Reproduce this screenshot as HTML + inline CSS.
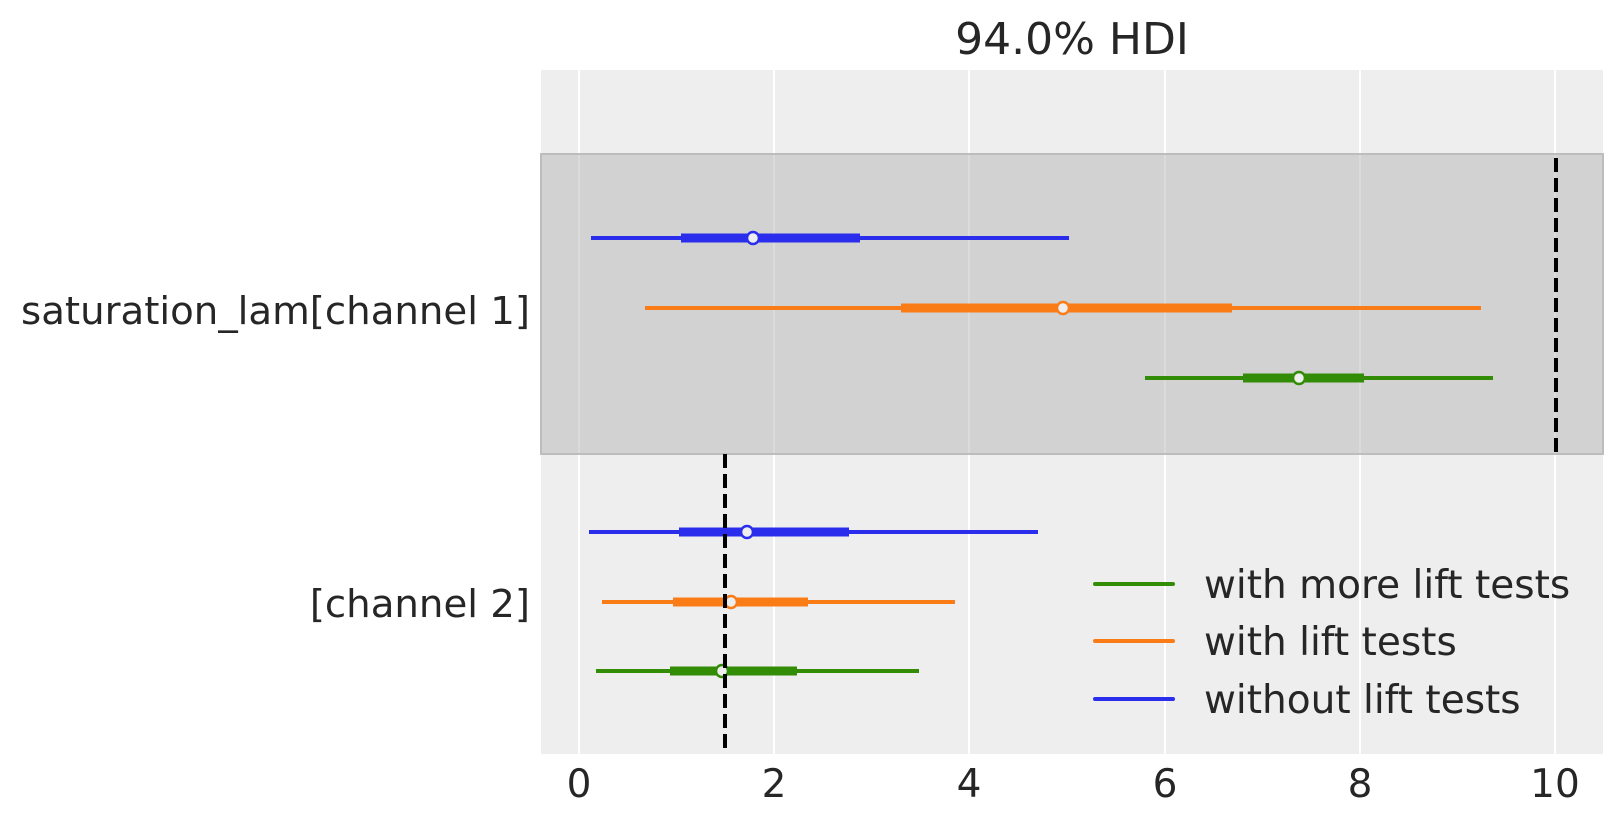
<!DOCTYPE html>
<html><head><meta charset="utf-8"><style>
html,body{margin:0;padding:0;background:#fff;}
svg{display:block;font-family:"DejaVu Sans","Liberation Sans",sans-serif;}
</style></head><body>
<svg width="1623" height="823" viewBox="0 0 1623 823" xmlns="http://www.w3.org/2000/svg">
<rect x="0" y="0" width="1623" height="823" fill="#fff"/>
<rect x="541" y="70" width="1062" height="684" fill="#eeeeee"/>
<g stroke="#ffffff" stroke-width="2">
<line x1="579" y1="70" x2="579" y2="754"/>
<line x1="774" y1="70" x2="774" y2="754"/>
<line x1="969" y1="70" x2="969" y2="754"/>
<line x1="1165" y1="70" x2="1165" y2="754"/>
<line x1="1360" y1="70" x2="1360" y2="754"/>
<line x1="1555" y1="70" x2="1555" y2="754"/>
</g>
<rect x="541" y="154" width="1062" height="300" fill="#b0b0b0" fill-opacity="0.45" stroke="#bdbdbd" stroke-width="2"/>
<g stroke-linecap="butt">
<line x1="591" y1="238" x2="1069" y2="238" stroke="#2a2eec" stroke-width="4"/>
<line x1="681" y1="238" x2="860" y2="238" stroke="#2a2eec" stroke-width="9"/>
<circle cx="753" cy="238" r="6" fill="#eeeeee" stroke="#2a2eec" stroke-width="2.5"/>
<line x1="645" y1="308" x2="1481" y2="308" stroke="#fa7c17" stroke-width="4"/>
<line x1="901" y1="308" x2="1232" y2="308" stroke="#fa7c17" stroke-width="9"/>
<circle cx="1063" cy="308" r="6" fill="#eeeeee" stroke="#fa7c17" stroke-width="2.5"/>
<line x1="1145" y1="378" x2="1493" y2="378" stroke="#328c06" stroke-width="4"/>
<line x1="1243" y1="378" x2="1364" y2="378" stroke="#328c06" stroke-width="9"/>
<circle cx="1299" cy="378" r="6" fill="#eeeeee" stroke="#328c06" stroke-width="2.5"/>
<line x1="589" y1="532" x2="1038" y2="532" stroke="#2a2eec" stroke-width="4"/>
<line x1="679" y1="532" x2="849" y2="532" stroke="#2a2eec" stroke-width="9"/>
<circle cx="747" cy="532" r="6" fill="#eeeeee" stroke="#2a2eec" stroke-width="2.5"/>
<line x1="602" y1="602" x2="955" y2="602" stroke="#fa7c17" stroke-width="4"/>
<line x1="673" y1="602" x2="808" y2="602" stroke="#fa7c17" stroke-width="9"/>
<circle cx="731" cy="602" r="6" fill="#eeeeee" stroke="#fa7c17" stroke-width="2.5"/>
<line x1="596" y1="671" x2="919" y2="671" stroke="#328c06" stroke-width="4"/>
<line x1="670" y1="671" x2="797" y2="671" stroke="#328c06" stroke-width="9"/>
<circle cx="722" cy="671" r="6" fill="#eeeeee" stroke="#328c06" stroke-width="2.5"/>
</g>
<line x1="1556" y1="158" x2="1556" y2="454" stroke="#000" stroke-width="4" stroke-dasharray="14,6"/>
<line x1="725" y1="454" x2="725" y2="754" stroke="#000" stroke-width="4" stroke-dasharray="14,6"/>
<g stroke-width="4" stroke-linecap="round">
<line x1="1095" y1="584" x2="1173" y2="584" stroke="#328c06"/>
<line x1="1095" y1="641" x2="1173" y2="641" stroke="#fa7c17"/>
<line x1="1095" y1="699" x2="1173" y2="699" stroke="#2a2eec"/>
</g>
<g fill="#262626" font-size="39">
<text x="1204" y="598">with more lift tests</text>
<text x="1204" y="655">with lift tests</text>
<text x="1204" y="713">without lift tests</text>
</g>
<g fill="#262626" font-size="38.7" text-anchor="end">
<text x="530" y="324">saturation_lam[channel 1]</text>
<text x="530" y="617">[channel 2]</text>
</g>
<g fill="#262626" font-size="39" text-anchor="middle">
<text x="579" y="797">0</text>
<text x="774" y="797">2</text>
<text x="969" y="797">4</text>
<text x="1165" y="797">6</text>
<text x="1360" y="797">8</text>
<text x="1555" y="797">10</text>
</g>
<text x="1072" y="54" fill="#262626" font-size="44" text-anchor="middle">94.0% HDI</text>
</svg>
</body></html>
